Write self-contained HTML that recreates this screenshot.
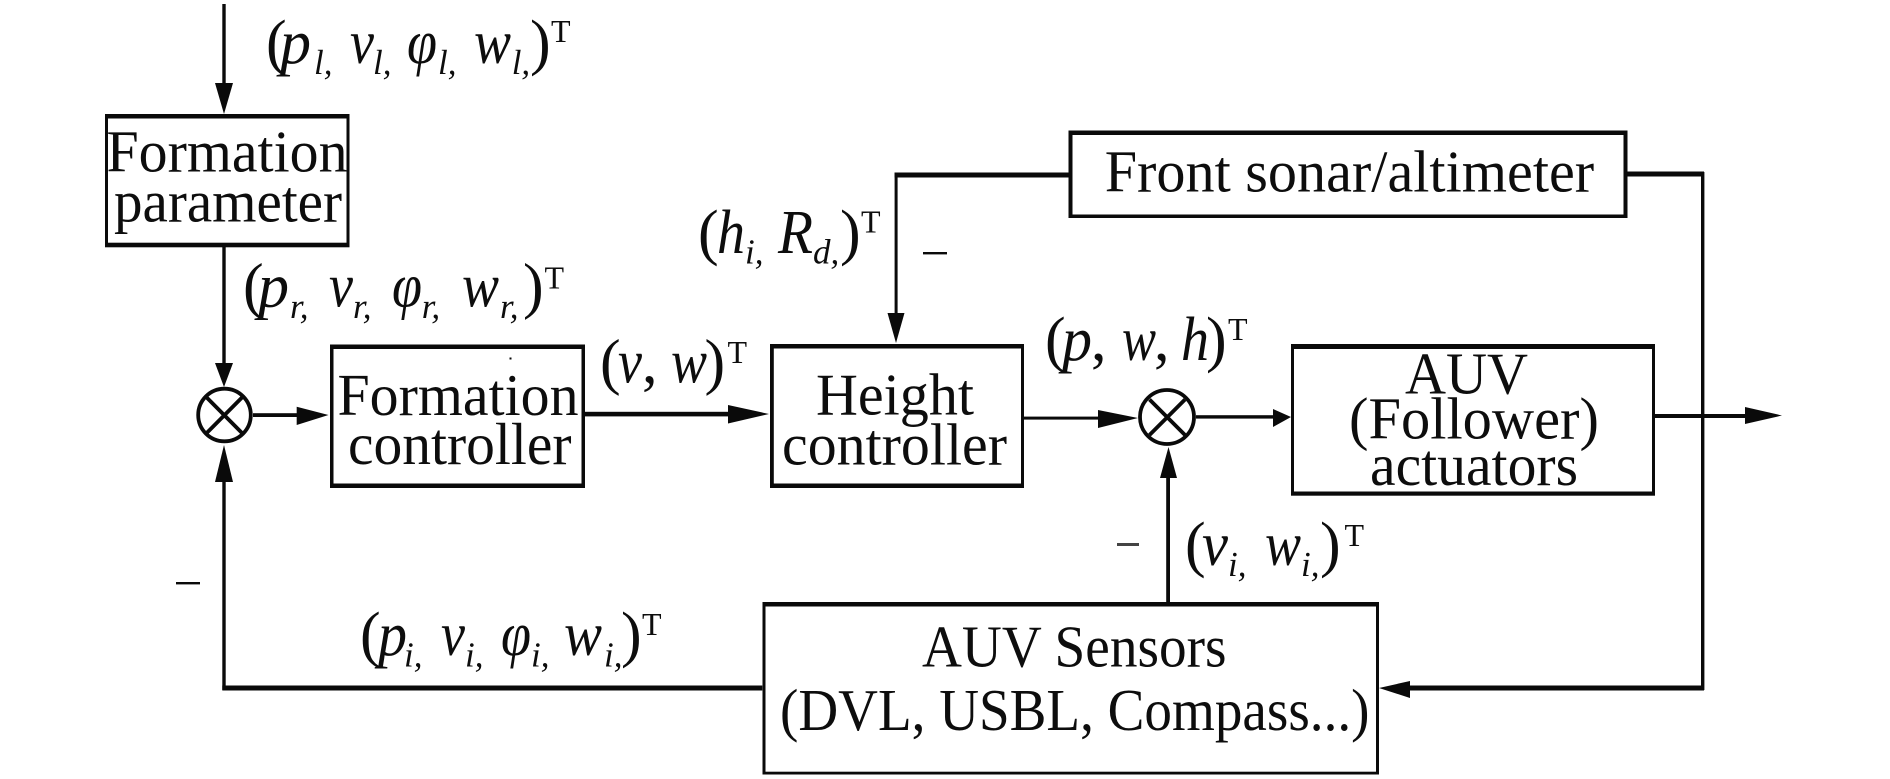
<!DOCTYPE html>
<html>
<head>
<meta charset="utf-8">
<style>
html,body{margin:0;padding:0;background:#fff;width:1890px;height:779px;overflow:hidden}
svg{display:block}
text{font-family:"Liberation Serif",serif;fill:#0d0d0d;font-size:59px}
.p{font-size:62px}
.m{font-style:italic;font-size:62px}
.s{font-style:italic;font-size:35px}
.t{font-size:32px}
</style>
</head>
<body>
<svg width="1890" height="779" viewBox="0 0 1890 779" xmlns="http://www.w3.org/2000/svg">
<rect width="1890" height="779" fill="#fff"/>
<g fill="#0a0a0a">
<!-- Formation parameter -->
<rect x="105" y="114" width="244.5" height="4.5"/><rect x="105" y="242.7" width="244.5" height="4.6"/><rect x="105" y="114" width="3" height="133"/><rect x="346.5" y="114" width="3" height="133"/>
<!-- Formation controller -->
<rect x="330" y="344.5" width="255" height="4.5"/><rect x="330" y="483.5" width="255" height="4.5"/><rect x="330" y="344.5" width="3.5" height="143.5"/><rect x="581.5" y="344.5" width="3.5" height="143.5"/>
<!-- Height controller -->
<rect x="770" y="344" width="254" height="4.5"/><rect x="770" y="483.5" width="254" height="4.5"/><rect x="770" y="344" width="3.8" height="144"/><rect x="1021" y="344" width="3" height="144"/>
<!-- AUV -->
<rect x="1291" y="344" width="364" height="5"/><rect x="1291" y="491.5" width="364" height="4.2"/><rect x="1291" y="344" width="3" height="151.5"/><rect x="1652" y="344" width="3" height="151.5"/>
<!-- Front -->
<rect x="1068.5" y="130.5" width="559" height="4.5"/><rect x="1068.5" y="214.5" width="559" height="3.5"/><rect x="1068.5" y="130.5" width="4" height="87.5"/><rect x="1623.5" y="130.5" width="4" height="87.5"/>
<!-- Sensors -->
<rect x="762.5" y="602" width="616.5" height="4.5"/><rect x="762.5" y="771.7" width="616.5" height="2.8"/><rect x="762.5" y="602" width="3" height="172.5"/><rect x="1376" y="602" width="3" height="172.5"/>
<!-- Lines -->
<rect x="222.3" y="4" width="3.4" height="85"/>
<rect x="222.3" y="247" width="3.4" height="120"/>
<rect x="253" y="413.2" width="50" height="3.8"/>
<rect x="583" y="411.8" width="150" height="4.6"/>
<rect x="1023" y="416.6" width="80" height="3"/>
<rect x="1196" y="415.2" width="80" height="3.4"/>
<rect x="1654" y="414" width="95" height="4"/>
<rect x="1701" y="172" width="3.4" height="518"/>
<rect x="1627" y="171.5" width="77" height="5"/>
<rect x="894.6" y="172.5" width="3" height="145"/>
<rect x="894.6" y="172.5" width="174" height="5"/>
<rect x="1166.2" y="475" width="3.8" height="127"/>
<rect x="1405" y="685.5" width="299" height="5"/>
<rect x="222.3" y="685.5" width="540" height="5"/>
<rect x="222.3" y="478" width="3.4" height="212"/>
<!-- Arrowheads -->
<polygon points="215,83 233,83 224,114"/>
<polygon points="215,363 233,363 224,387"/>
<polygon points="215,482 233,482 224,445"/>
<polygon points="296.7,406.7 328.5,415 296.7,425"/>
<polygon points="728,405 769,414 728,423.5"/>
<polygon points="1098,410 1138,418 1098,428"/>
<polygon points="1273,409 1291,417 1273,427"/>
<polygon points="1745,407 1782,415.5 1745,424"/>
<polygon points="887.5,313 904.5,313 896,343"/>
<polygon points="1160,478 1177,478 1168.5,447"/>
<polygon points="1410,681 1379,688 1410,698"/>
<!-- minus and artefacts -->
<rect x="923" y="252" width="24" height="2.4"/>
<rect x="176" y="582" width="24" height="2.4"/>
<rect x="1117" y="543" width="22" height="3" fill="#444"/>
<rect x="509.5" y="357.5" width="2" height="2"/>
</g>
<!-- Summing junctions -->
<g fill="none" stroke="#0a0a0a" stroke-width="3.8">
<circle cx="224.5" cy="415" r="26.3"/>
<path d="M206.7,397.5 L242,433 M242,397.5 L206.7,433"/>
<circle cx="1167" cy="417" r="27"/>
<path d="M1149.5,399.5 L1185,435 M1185,399.5 L1149.5,435"/>
</g>
<!-- Box labels -->
<text x="106.5" y="171.7" textLength="241" lengthAdjust="spacingAndGlyphs">Formation</text>
<text x="114" y="221.7" textLength="228" lengthAdjust="spacingAndGlyphs">parameter</text>
<text x="337.5" y="415" textLength="241" lengthAdjust="spacingAndGlyphs">Formation</text>
<text x="348" y="464" textLength="223.5" lengthAdjust="spacingAndGlyphs">controller</text>
<text x="816" y="414.5" textLength="158" lengthAdjust="spacingAndGlyphs">Height</text>
<text x="782" y="464.5" textLength="225" lengthAdjust="spacingAndGlyphs">controller</text>
<text x="1104.7" y="191.5" textLength="489.5" lengthAdjust="spacingAndGlyphs">Front sonar/altimeter</text>
<text x="1405" y="393.3" textLength="123" lengthAdjust="spacingAndGlyphs">AUV</text>
<text x="1349" y="438.3" textLength="250" lengthAdjust="spacingAndGlyphs">(Follower)</text>
<text x="1370" y="485" textLength="208" lengthAdjust="spacingAndGlyphs">actuators</text>
<text x="922" y="666.7" textLength="304.5" lengthAdjust="spacingAndGlyphs">AUV Sensors</text>
<text x="780" y="730" textLength="589.5" lengthAdjust="spacingAndGlyphs">(DVL, USBL, Compass...)</text>
<!-- (p_l, v_l, phi_l, w_l,)^T -->
<text class="p" x="266" y="63">(</text><text class="m" x="280" y="63" textLength="31" lengthAdjust="spacingAndGlyphs">p</text><text class="s" x="314" y="74">l,</text>
<text class="m" x="350" y="63" textLength="24" lengthAdjust="spacingAndGlyphs">v</text><text class="s" x="373" y="74">l,</text>
<text class="m" x="407" y="63" textLength="30" lengthAdjust="spacingAndGlyphs">φ</text><text class="s" x="438" y="74">l,</text>
<text class="m" x="474" y="63" textLength="37" lengthAdjust="spacingAndGlyphs">w</text><text class="s" x="511.7" y="74">l,</text>
<text class="p" x="530" y="63">)</text><text class="t" x="551" y="42">T</text>
<!-- (p_r, v_r, phi_r, w_r,)^T -->
<text class="p" x="243" y="306.7">(</text><text class="m" x="258" y="306.7" textLength="31" lengthAdjust="spacingAndGlyphs">p</text><text class="s" x="290" y="318">r,</text>
<text class="m" x="329" y="306.7" textLength="24" lengthAdjust="spacingAndGlyphs">v</text><text class="s" x="353" y="318">r,</text>
<text class="m" x="392" y="306.7" textLength="30" lengthAdjust="spacingAndGlyphs">φ</text><text class="s" x="421.7" y="318">r,</text>
<text class="m" x="462" y="306.7" textLength="37" lengthAdjust="spacingAndGlyphs">w</text><text class="s" x="500" y="318">r,</text>
<text class="p" x="523" y="306.7">)</text><text class="t" x="544.5" y="288.3">T</text>
<!-- (v, w)^T -->
<text class="p" x="600" y="382.7">(</text><text class="m" x="618" y="382.7" textLength="24" lengthAdjust="spacingAndGlyphs">v</text><text class="p" x="642" y="382.7">,</text>
<text class="m" x="671" y="382.7" textLength="36" lengthAdjust="spacingAndGlyphs">w</text><text class="p" x="704.5" y="382.7">)</text><text class="t" x="727.5" y="363">T</text>
<!-- (h_i, R_d,)^T -->
<text class="p" x="698" y="253">(</text><text class="m" x="717" y="253" textLength="28" lengthAdjust="spacingAndGlyphs">h</text><text class="s" x="745" y="263.5">i,</text>
<text class="m" x="778" y="253" textLength="35" lengthAdjust="spacingAndGlyphs">R</text><text class="s" x="813" y="263.5">d,</text>
<text class="p" x="840" y="253">)</text><text class="t" x="861" y="232.7">T</text>
<!-- (p, w, h)^T -->
<text class="p" x="1045" y="360">(</text><text class="m" x="1062" y="360" textLength="30" lengthAdjust="spacingAndGlyphs">p</text><text class="p" x="1091" y="360">,</text>
<text class="m" x="1122" y="360" textLength="34" lengthAdjust="spacingAndGlyphs">w</text><text class="p" x="1154" y="360">,</text>
<text class="m" x="1181" y="360" textLength="28" lengthAdjust="spacingAndGlyphs">h</text><text class="p" x="1206" y="360">)</text><text class="t" x="1228" y="340">T</text>
<!-- (v_i, w_i,)^T -->
<text class="p" x="1185" y="565">(</text><text class="m" x="1202" y="565" textLength="26" lengthAdjust="spacingAndGlyphs">v</text><text class="s" x="1228" y="576">i,</text>
<text class="m" x="1265" y="565" textLength="36" lengthAdjust="spacingAndGlyphs">w</text><text class="s" x="1301" y="576">i,</text>
<text class="p" x="1320" y="565">)</text><text class="t" x="1344.5" y="546">T</text>
<!-- (p_i, v_i, phi_i, w_i,)^T -->
<text class="p" x="360" y="655">(</text><text class="m" x="378" y="655" textLength="29" lengthAdjust="spacingAndGlyphs">p</text><text class="s" x="404" y="666.7">i,</text>
<text class="m" x="441" y="655" textLength="24" lengthAdjust="spacingAndGlyphs">v</text><text class="s" x="465" y="666.7">i,</text>
<text class="m" x="501" y="655" textLength="30" lengthAdjust="spacingAndGlyphs">φ</text><text class="s" x="531" y="666.7">i,</text>
<text class="m" x="564" y="655" textLength="38" lengthAdjust="spacingAndGlyphs">w</text><text class="s" x="604" y="666.7">i,</text>
<text class="p" x="621" y="655">)</text><text class="t" x="642" y="635">T</text>
</svg>
</body>
</html>
